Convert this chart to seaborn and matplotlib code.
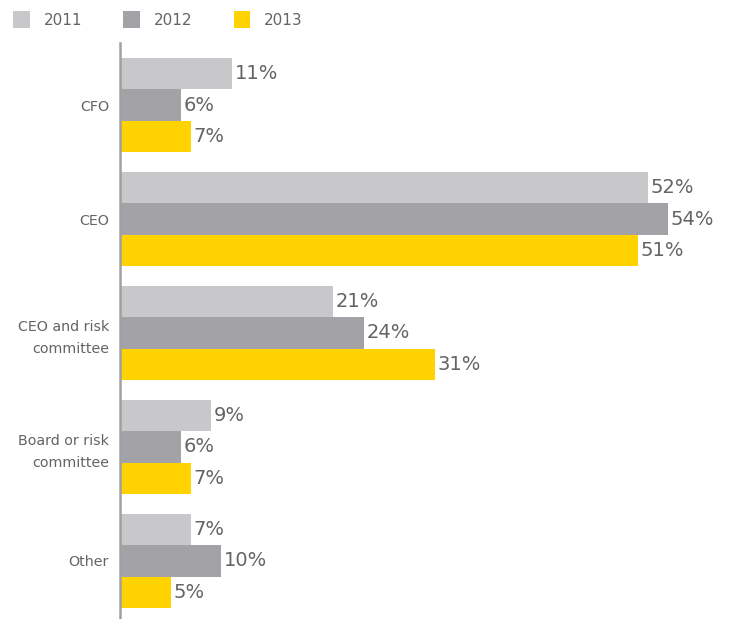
import matplotlib
matplotlib.use("Agg")
import matplotlib.pyplot as plt
import seaborn as sns
import pandas as pd

# Who owns the risk agenda, by survey year (share of respondents, %)
categories = ["CFO", "CEO", "CEO and risk\ncommittee", "Board or risk\ncommittee", "Other"]
years = ["2011", "2012", "2013"]
values_2011 = [11, 52, 21, 9, 7]
values_2012 = [6, 54, 24, 6, 10]
values_2013 = [7, 51, 31, 7, 5]

colors = {"2011": "#c8c8ca", "2012": "#a3a2a7", "2013": "#ffd200"}
text_color = "#646464"

rows = []
for year, vals in zip(years, [values_2011, values_2012, values_2013]):
    for cat, v in zip(categories, vals):
        rows.append({"category": cat, "year": year, "value": v})
df = pd.DataFrame(rows)

sns.set_style("white")
plt.rcParams["font.family"] = ["DejaVu Sans"]

fig = plt.figure(figsize=(7.32, 6.19), dpi=100)
ax = fig.add_axes([120 / 732, 0, (732 - 120) / 732, 576 / 619])

sns.barplot(
    data=df, y="category", x="value", hue="year", orient="h",
    order=categories, hue_order=years, palette=colors,
    width=0.825, gap=0, saturation=1, errorbar=None, linewidth=0, ax=ax,
)

for container, year in zip(ax.containers, years):
    vals = df[df["year"] == year].set_index("category").loc[categories, "value"]
    ax.bar_label(container, labels=[f"{v}%" for v in vals], padding=2,
                 fontsize=14, color=text_color)

ax.set_xlim(0, 60.3)
ax.set_ylim(4.51, -0.545)
ax.set_xlabel("")
ax.set_ylabel("")
ax.set_xticks([])
ax.tick_params(axis="y", length=0, pad=8, labelsize=10.3, labelcolor=text_color)
for lbl in ax.get_yticklabels():
    lbl.set_linespacing(1.65)

for side in ["top", "right", "bottom"]:
    ax.spines[side].set_visible(False)
ax.spines["left"].set_color("#a0a0a0")
ax.spines["left"].set_linewidth(1.8)

sns.move_legend(
    ax, "upper left", bbox_to_anchor=(13 / 732, 1 - 11 / 619),
    bbox_transform=fig.transFigure, ncol=3, frameon=False, title=None,
    fontsize=11, handlelength=1.1, handleheight=1.35, handletextpad=0.9,
    columnspacing=2.7, borderaxespad=0, borderpad=0,
    labelcolor=text_color,
)
leg = ax.get_legend()
for h in leg.legend_handles:
    h.set_linewidth(0)

fig.savefig("out.png", dpi=100)
